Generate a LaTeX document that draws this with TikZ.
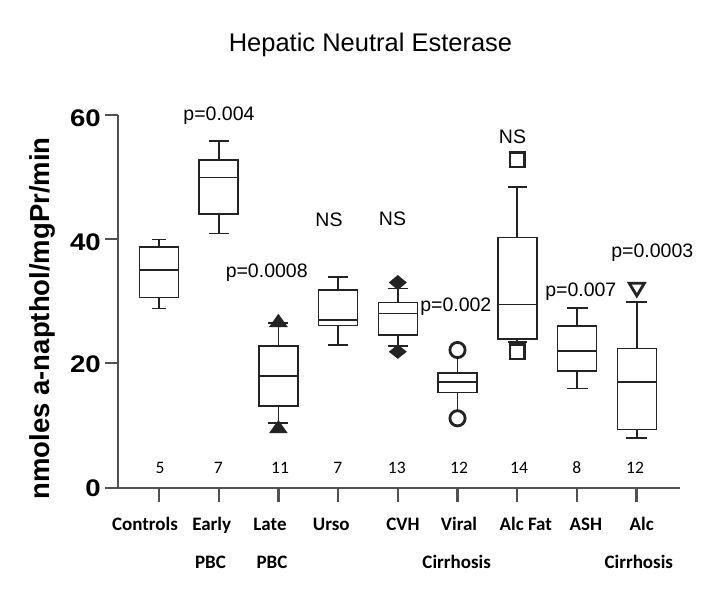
\documentclass[tikz,border=0pt]{standalone}
\usepackage{fontspec}
\setmainfont{Liberation Sans}
\newfontfamily\calfont{Carlito}
\definecolor{axisgray}{RGB}{80,80,80}
\definecolor{boxgray}{RGB}{35,35,35}
\tikzset{
  axisline/.style={draw=axisgray, line width=2.4pt},
  boxline/.style={draw=boxgray, line width=1.6pt},
  markline/.style={draw=boxgray, line width=2.8pt},
  pval/.style={font=\fontsize{19.5}{20}\selectfont, anchor=base, inner sep=0pt},
  ntext/.style={font=\calfont\fontsize{17.5}{18}\selectfont, anchor=base, inner sep=0pt},
  cattext/.style={font=\calfont\bfseries\fontsize{19}{20}\selectfont, anchor=base, inner sep=0pt},
  ytl/.style={font=\bfseries\fontsize{24}{24}\selectfont, anchor=east, inner sep=0pt},
}
% x, whisker low, q1, median, q3, whisker high (all in pixel y)
\newcommand\bxp[6]{%
  \draw[boxline] (#1-19.5,#3) rectangle (#1+19.5,#5);
  \draw[boxline] (#1-19.5,#4) -- (#1+19.5,#4);
  \draw[boxline] (#1,#5) -- (#1,#6);
  \draw[boxline] (#1,#3) -- (#1,#2);
}
\newcommand\wcap[3]{\draw[boxline] (#1-#3,#2) -- (#1+#3,#2);}
\begin{document}
\begin{tikzpicture}[x=1pt,y=-1pt]
\useasboundingbox (0,0) rectangle (723,606);
\fill[white] (0,0) rectangle (723,606);

% title
\node[font=\fontsize{25.5}{26}\selectfont, anchor=base, inner sep=0pt] (title) at (370.5,51.7) {Hepatic Neutral Esterase};

% axes
\draw[axisline] (118,115) -- (118,488);
\draw[axisline] (105,488) -- (680,488);
\foreach \yy in {115,239,363} \draw[axisline] (105,\yy) -- (118,\yy);
\foreach \xx in {159,218.7,278.4,338,397.8,457.5,517.2,577,636.6}
  \draw[axisline] (\xx,488) -- (\xx,502);

% y tick labels
\node[ytl] (y60) at (101,118) {\scalebox{1.15}[1]{60}};
\node[ytl] (y40) at (101,242) {\scalebox{1.15}[1]{40}};
\node[ytl] (y20) at (101,364) {\scalebox{1.15}[1]{20}};
\node[ytl] (y0)  at (101,488.5) {\scalebox{1.15}[1]{0}};

% y axis label
\node[font=\bfseries\fontsize{27.5}{28}\selectfont, rotate=90, anchor=base, inner sep=0pt] (ylab) at (49.5,318.3) {nmoles a-napthol/mgPr/min};

% boxes
% Controls
\bxp{159}{308.3}{297.3}{270}{246.7}{239.3}
\wcap{159}{239.3}{7}\wcap{159}{308.3}{7}
% Early PBC
\bxp{218.7}{233.3}{214}{177.3}{160}{140.7}
\wcap{218.7}{140.7}{10}\wcap{218.7}{233.3}{10}
% Late PBC
\bxp{278.4}{423}{405.7}{375.7}{345.7}{323}
\wcap{278.4}{323}{10}\wcap{278.4}{423}{10}
\fill[boxgray] (278.4,313.8) -- (287.8,327) -- (269,327) -- cycle;
\fill[boxgray] (278.4,420) -- (287.8,433.2) -- (269,433.2) -- cycle;
% Urso
\bxp{338}{345}{325.3}{320}{290}{276.7}
\wcap{338}{276.7}{10}\wcap{338}{345}{10}
% CVH
\bxp{397.8}{346}{335}{313.3}{302.3}{288.3}
\wcap{397.8}{288.3}{10}\wcap{397.8}{346}{10}
\fill[boxgray] (397.8,275) -- (406.8,282.5) -- (397.8,290) -- (388.8,282.5) -- cycle;
\fill[boxgray] (397.8,344.5) -- (406.8,351.7) -- (397.8,358.8) -- (388.8,351.7) -- cycle;
% Viral Cirrhosis
\bxp{457.5}{410.7}{392.3}{381.7}{372.7}{357.6}
\draw[markline] (457.5,350) circle (7.6pt);
\draw[markline] (457.5,418.3) circle (7.6pt);
% Alc Fat
\bxp{517.2}{342}{339}{304.3}{237.3}{186.7}
\wcap{517.2}{186.7}{9.5}\wcap{517.2}{342}{9.5}
\draw[markline] (509.9,152.4) rectangle (524.5,167);
\draw[markline] (509.9,344.4) rectangle (524.5,359);
% ASH
\bxp{577}{388.3}{371}{350.7}{325.7}{308}
\wcap{577}{308}{10.5}\wcap{577}{388.3}{10.5}
% Alc Cirrhosis
\bxp{636.8}{437.7}{429.3}{381.7}{348.3}{301.7}
\wcap{636.8}{301.7}{10.5}\wcap{636.8}{437.7}{10.5}
\draw[markline, line join=miter] (629.3,283.3) -- (644.3,283.3) -- (636.8,295.8) -- cycle;

% p-values / NS
\node[pval] (p1) at (219,120.7) {p=0.004};
\node[pval] (p2) at (266.7,277.7) {p=0.0008};
\node[pval] (ns1) at (329,226.7) {NS};
\node[pval] (ns2) at (392.5,225) {NS};
\node[pval] (p3) at (455.8,311) {p=0.002};
\node[pval] (ns3) at (512.5,143.3) {NS};
\node[pval] (p4) at (580.8,296) {p=0.007};
\node[pval] (p5) at (652.3,257.7) {p=0.0003};

% sample sizes
\node[ntext] (n1) at (160,473.3) {5};
\node[ntext] (n2) at (218.3,473.3) {7};
\node[ntext] (n3) at (280,473.3) {11};
\node[ntext] (n4) at (337.7,473.3) {7};
\node[ntext] (n5) at (396.8,473.3) {13};
\node[ntext] (n6) at (459,473.3) {12};
\node[ntext] (n7) at (519,473.3) {14};
\node[ntext] (n8) at (576.7,473.3) {8};
\node[ntext] (n9) at (635,473.3) {12};

% category labels
\node[cattext] (c1) at (145,530) {Controls};
\node[cattext] (c2) at (211.7,530) {Early};
\node[cattext] (c2b) at (210.5,568.3) {PBC};
\node[cattext] (c3) at (270,530) {Late};
\node[cattext] (c3b) at (272,568.3) {PBC};
\node[cattext] (c4) at (331.3,530) {Urso};
\node[cattext] (c5) at (403,530) {CVH};
\node[cattext] (c6) at (459,530) {Viral};
\node[cattext] (c6b) at (456.7,568.3) {Cirrhosis};
\node[cattext] (c7) at (525.8,530) {Alc Fat};
\node[cattext] (c8) at (585.8,530) {ASH};
\node[cattext] (c9) at (641.7,530) {Alc};
\node[cattext] (c9b) at (638.8,568.3) {Cirrhosis};
\end{tikzpicture}
\end{document}
